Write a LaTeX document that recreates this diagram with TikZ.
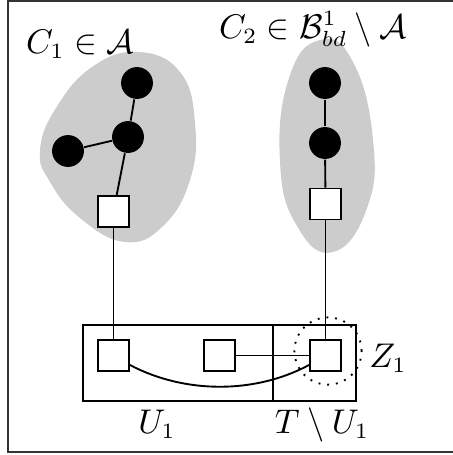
\documentclass[tikz,border=0pt]{standalone}
\usetikzlibrary{calc}
\begin{document}
\begin{tikzpicture}[x=0.32pt,y=-0.32pt,
  edge/.style={line width=0.6pt},
  vtx/.style={circle,fill=black,inner sep=0pt,minimum size=10.2pt},
  sq/.style={rectangle,draw,fill=white,line width=0.6pt,inner sep=0pt,minimum size=9.9pt},
  blob/.style={fill=black!20,draw=none},
  lbl/.style={anchor=base,inner sep=0pt,font=\fontsize{10.7}{13}\selectfont}]
\useasboundingbox (0,0) rectangle (453,455);
\clip (0,0) rectangle (453,455);
% frame
\draw[line width=0.7pt,black!80] (8,0.5) rectangle (480,452);
% blobs
\fill[blob] plot[smooth cycle,tension=0.75] coordinates {(138,52) (180,72) (195,123) (190,180) (163,226) (125,242) (80,218) (50,182) (40,150) (56,108) (92,67)};
\fill[blob] plot[smooth cycle,tension=0.8] coordinates {(320,40) (353,62) (373,140) (367,208) (333,252) (297,226) (280,162) (289,78)};
% C1 nodes
\node[vtx] (a1) at (137,83) {};
\node[vtx] (a2) at (128,137) {};
\node[vtx] (a3) at (68,151) {};
\node[sq] (s1) at (113.5,211.5) {};
% C2 nodes
\node[vtx] (b1) at (325,83) {};
\node[vtx] (b2) at (325,143) {};
\node[sq] (s2) at (325.5,204) {};
% bottom box
\draw[line width=0.6pt] (83,325) rectangle (356,401);
\draw[line width=0.6pt] (273,325) -- (273,401);
\node[sq] (l1) at (113.5,355.5) {};
\node[sq] (m1) at (219.5,355.5) {};
\node[sq] (r1) at (325.5,355.5) {};
% edges
\draw[edge] (a1) -- (a2);
\draw[edge] (a3) -- (a2);
\draw[edge] (a2) -- (s1);
\draw[edge] (s1) -- (l1);
\draw[edge] (b1) -- (b2);
\draw[edge] (b2) -- (s2);
\draw[edge] (s2) -- (r1);
\draw[edge] (m1) -- (r1);
\coordinate (k1) at (185,394);
\coordinate (k2) at (255,394);
\draw[edge] (l1.-30) .. controls (k1) and (k2) .. (r1.-150);
% dotted circle
\node[circle,draw,line width=0.6pt,dash pattern=on 0.6pt off 2.2pt,minimum size=21.5pt,inner sep=0pt] (z) at (328,351) {};
% labels
\node[lbl] (t1) at (80,53) {$C_1\in\mathcal{A}$};
\node[lbl] (t2) at (313,38) {$C_2\in\mathcal{B}^1_{bd}\setminus\mathcal{A}$};
\node[lbl] (t3) at (388,367) {$Z_1$};
\node[lbl] (t4) at (157,433) {$U_1$};
\node[lbl] (t5) at (322,433) {$T\setminus U_1$};
\end{tikzpicture}
\end{document}
